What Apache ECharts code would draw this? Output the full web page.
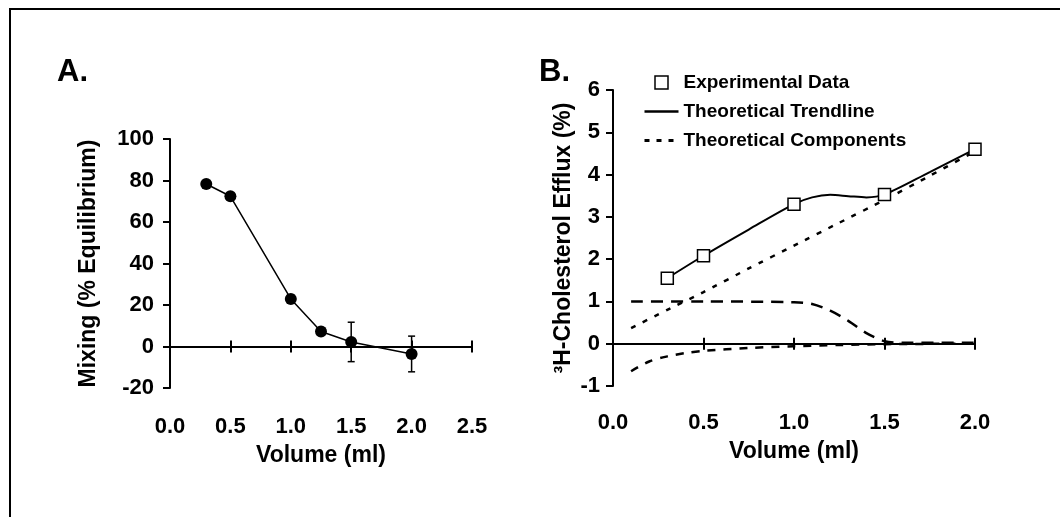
<!DOCTYPE html>
<html>
<head>
<meta charset="utf-8">
<script src="https://cdn.jsdelivr.net/npm/echarts@6/dist/echarts.min.js"></script>
<style>
  html, body { margin: 0; padding: 0; background: #fff; }
  #chart { width: 1060px; height: 517px; }
</style>
</head>
<body>
<div id="chart"></div>
<script>
// panel A: mixing vs volume
var volA = [0.3, 0.5, 1.0, 1.25, 1.5, 2.0]
var mixA = [78.3, 72.4, 22.9, 7.2, 2.2, -3.6]
var errA = [1.5, 1.5, 2, 1.5, 9.5, 8.6]
var ticksAx = [0, 2.5, 0.5] // min, max, step
var ticksAy = [-20, 100, 20]

// panel B: efflux vs volume
var volB = [0.3, 0.5, 1.0, 1.5, 2.0]
var effluxB = [1.55, 2.08, 3.3, 3.53, 4.6]
var trendX = [0.3, 0.5, 0.75, 1.0, 1.1, 1.2, 1.3, 1.4, 1.5, 1.75, 2.0]
var trendY = [1.55, 2.08, 2.7, 3.3, 3.46, 3.52, 3.49, 3.46, 3.53, 4.06, 4.6]
var linX = [0.1, 0.3, 0.5, 0.75, 1.0, 1.25, 1.5, 1.75, 2.0]
var linY = [0.37, 0.8, 1.22, 1.78, 2.32, 2.86, 3.4, 3.97, 4.55]
var stepX = [0.1, 0.5, 1.0, 1.1, 1.2, 1.3, 1.4, 1.5, 1.6, 2.0]
var stepY = [1.0, 1.0, 0.98, 0.94, 0.78, 0.54, 0.25, 0.06, 0.02, 0.02]
var negX = [0.1, 0.2, 0.3, 0.4, 0.5, 0.75, 1.0, 1.25, 1.5, 2.0]
var negY = [-0.65, -0.42, -0.3, -0.22, -0.17, -0.1, -0.06, -0.03, -0.01, 0.0]
var ticksBx = [0, 2, 0.5]
var ticksBy = [-1, 6, 1]

var FONT = '"Liberation Sans", Arial, sans-serif'
var NOSYM = { color: 'rgba(0,0,0,0)', borderColor: 'rgba(0,0,0,0)', borderWidth: 0 }

function pairs(xs, ys) {
  return xs.map(function (x, i) { return [x, ys[i]] })
}

// three x axes per grid: zero line + down ticks, labels at bottom, up ticks
function xAxes(grid, t, yIndex, labelMargin, nameGap) {
  var base = {
    type: 'value', gridIndex: grid, position: 'bottom',
    min: t[0], max: t[1], interval: t[2], splitLine: { show: false }
  }
  return [
    Object.assign({}, base, {
      axisLine: { onZero: true, onZeroAxisIndex: yIndex, lineStyle: { color: '#000', width: 2 } },
      axisTick: { show: true, length: 6, lineStyle: { color: '#000', width: 2 } },
      axisLabel: { show: false }
    }),
    Object.assign({}, base, {
      axisLine: { show: false, onZero: false },
      axisTick: { show: false },
      axisLabel: {
        margin: labelMargin, color: '#000', fontSize: 22, fontWeight: 'bold', fontFamily: FONT,
        formatter: function (v) { return v.toFixed(1) }
      },
      name: 'Volume (ml)',
      nameLocation: 'middle',
      nameGap: nameGap,
      nameTextStyle: { color: '#000', fontSize: 23, fontWeight: 'bold', fontFamily: FONT }
    }),
    Object.assign({}, base, {
      axisLine: { show: false, onZero: true, onZeroAxisIndex: yIndex },
      axisTick: { show: true, inside: true, length: 6, lineStyle: { color: '#000', width: 2 } },
      axisLabel: { show: false }
    })
  ]
}

function yAxis(grid, t, name, margin, nameGap) {
  return {
    type: 'value', gridIndex: grid, min: t[0], max: t[1], interval: t[2],
    splitLine: { show: false },
    axisLine: { show: true, lineStyle: { color: '#000', width: 2 } },
    axisTick: { show: true, length: 7, lineStyle: { color: '#000', width: 2 } },
    axisLabel: { margin: margin, color: '#000', fontSize: 22, fontWeight: 'bold', fontFamily: FONT },
    name: name,
    nameLocation: 'middle',
    nameRotate: 90,
    nameGap: nameGap,
    nameTextStyle: { color: '#000', fontSize: 23, fontWeight: 'bold', fontFamily: FONT }
  }
}

function renderErr(params, api) {
  var x = api.value(0)
  var top = api.coord([x, api.value(1) + api.value(2)])
  var bot = api.coord([x, api.value(1) - api.value(2)])
  var st = { stroke: '#000', lineWidth: 1.5 }
  return {
    type: 'group',
    children: [
      { type: 'line', shape: { x1: top[0], y1: top[1], x2: bot[0], y2: bot[1] }, style: st },
      { type: 'line', shape: { x1: top[0] - 3.5, y1: top[1], x2: top[0] + 3.5, y2: top[1] }, style: st },
      { type: 'line', shape: { x1: bot[0] - 3.5, y1: bot[1], x2: bot[0] + 3.5, y2: bot[1] }, style: st }
    ]
  }
}

var option = {
  backgroundColor: '#fff',
  animation: false,
  color: ['#000'],
  graphic: [
    { type: 'rect', shape: { x: 10, y: 9, width: 1200, height: 700 }, style: { fill: 'none', stroke: '#000', lineWidth: 2 } },
    { type: 'text', left: 57, top: 57, style: { text: 'A.', fill: '#000', font: 'bold 31px ' + FONT } },
    { type: 'text', left: 539, top: 57, style: { text: 'B.', fill: '#000', font: 'bold 31px ' + FONT } }
  ],
  grid: [
    { left: 170, top: 139, width: 302, height: 249 },
    { left: 613, top: 90, width: 362, height: 296 }
  ],
  legend: {
    left: 638,
    top: 68,
    orient: 'vertical',
    itemWidth: 34,
    itemHeight: 13,
    itemGap: 10,
    selectedMode: false,
    textStyle: { color: '#000', fontSize: 19, fontWeight: 'bold', fontFamily: FONT },
    data: [
      { name: 'Experimental Data', icon: 'path://M0,0H10V10H0Z', itemStyle: { color: '#fff', borderColor: '#000', borderWidth: 1.5 } },
      { name: 'Theoretical Trendline', itemStyle: NOSYM, lineStyle: { color: '#000', width: 2.5, type: 'solid' } },
      { name: 'Theoretical Components', itemStyle: NOSYM, lineStyle: { color: '#000', width: 3, type: [5, 7] } }
    ]
  },
  xAxis: xAxes(0, ticksAx, 0, 28, 56).concat(xAxes(1, ticksBx, 1, 26, 54)),
  yAxis: [
    yAxis(0, ticksAy, 'Mixing (% Equilibrium)', 16, 70),
    yAxis(1, ticksBy, '\u00b3H-Cholesterol Efflux (%)', 13, 38)
  ],
  series: [
    {
      type: 'custom',
      xAxisIndex: 0,
      yAxisIndex: 0,
      renderItem: renderErr,
      data: volA.map(function (x, i) { return [x, mixA[i], errA[i]] }),
      z: 1
    },
    {
      type: 'line',
      xAxisIndex: 0,
      yAxisIndex: 0,
      data: pairs(volA, mixA),
      symbol: 'circle',
      symbolSize: 12,
      itemStyle: { color: '#000' },
      lineStyle: { color: '#000', width: 1.5 },
      z: 3
    },
    {
      name: 'Theoretical Components',
      type: 'line',
      xAxisIndex: 3,
      yAxisIndex: 1,
      data: pairs(linX, linY),
      symbol: 'none',
      smooth: 0.2,
      itemStyle: { color: '#000' },
      lineStyle: { color: '#000', width: 2.5, type: [5, 8] },
      z: 2
    },
    {
      name: 'Theoretical Components',
      type: 'line',
      xAxisIndex: 3,
      yAxisIndex: 1,
      data: pairs(stepX, stepY),
      symbol: 'none',
      smooth: 0.3,
      itemStyle: { color: '#000' },
      lineStyle: { color: '#000', width: 2.5, type: [12, 8] },
      z: 2
    },
    {
      name: 'Theoretical Components',
      type: 'line',
      xAxisIndex: 3,
      yAxisIndex: 1,
      data: pairs(negX, negY),
      symbol: 'none',
      smooth: 0.3,
      itemStyle: { color: '#000' },
      lineStyle: { color: '#000', width: 2.5, type: [8, 8] },
      z: 2
    },
    {
      name: 'Theoretical Trendline',
      type: 'line',
      xAxisIndex: 3,
      yAxisIndex: 1,
      data: pairs(trendX, trendY),
      symbol: 'none',
      smooth: 0.3,
      itemStyle: { color: '#000' },
      lineStyle: { color: '#000', width: 2 },
      z: 3
    },
    {
      name: 'Experimental Data',
      type: 'scatter',
      xAxisIndex: 3,
      yAxisIndex: 1,
      data: pairs(volB, effluxB),
      symbol: 'rect',
      symbolSize: 12,
      itemStyle: { color: '#fff', borderColor: '#000', borderWidth: 1.5, opacity: 1 },
      z: 4
    }
  ]
}

var myChart = echarts.init(document.getElementById('chart'))
myChart.setOption(option)
</script>
</body>
</html>
